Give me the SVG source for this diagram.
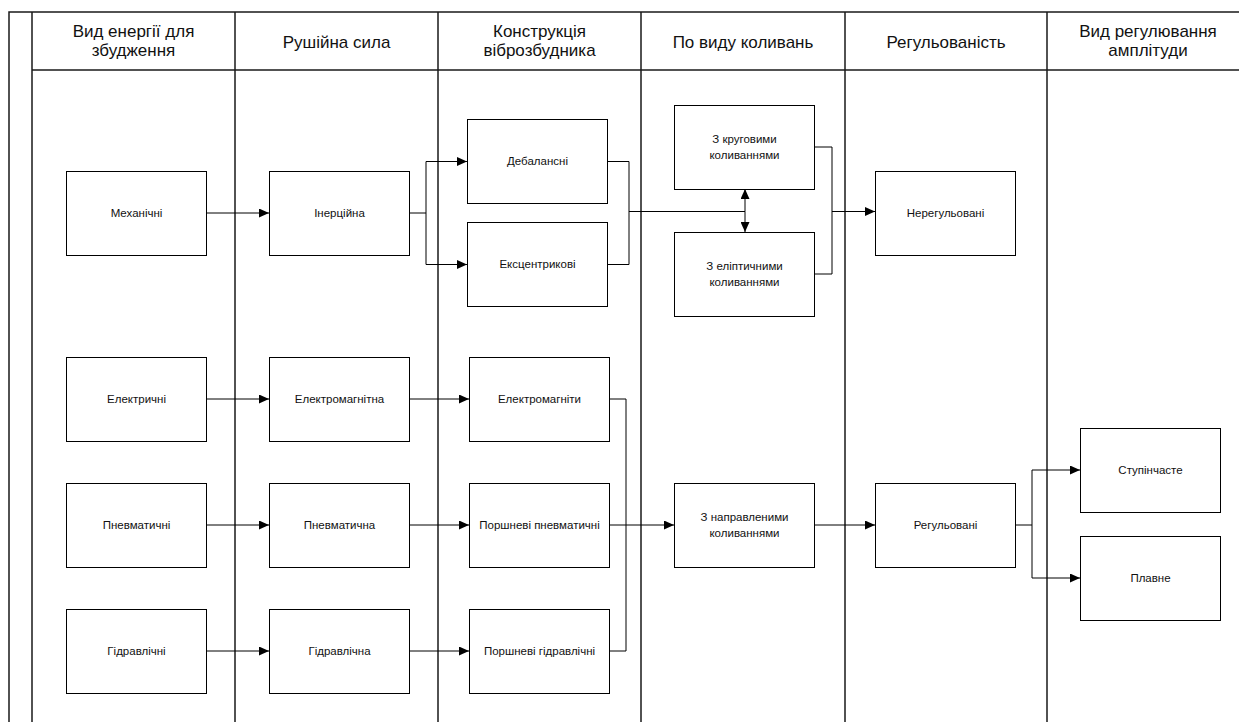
<svg xmlns="http://www.w3.org/2000/svg" width="1239" height="722" viewBox="0 0 1239 722">
<style>
.frame{stroke:#1a1a1a;stroke-width:1.5;fill:none}
.box{fill:#fff;stroke:#000;stroke-width:1}
.hdr{font-family:"Liberation Sans",Arial,sans-serif;font-size:17px;fill:#111;text-anchor:middle}
.lbl{font-family:"Liberation Sans",Arial,sans-serif;font-size:11.5px;fill:#111;text-anchor:middle}
.con{fill:none;stroke:#000;stroke-width:1}
.arr{fill:none;stroke:#000;stroke-width:1;marker-end:url(#ah)}
</style>
<defs>
<marker id="ah" markerUnits="userSpaceOnUse" markerWidth="10" markerHeight="9" refX="10" refY="4.5" orient="auto">
<path d="M0,0 L10,4.5 L0,9 z" fill="#000"/>
</marker>
</defs>
<rect width="1239" height="722" fill="#fff"/>
<g id="frame">
<path class="frame" d="M9,722 V12 H1239 M32,12 V722 M32,70 H1239 M235,12 V722 M438,12 V722 M641,12 V722 M845,12 V722 M1047,12 V722"/>
<text class="hdr" x="133.5" y="37">Вид енергії для</text>
<text class="hdr" x="133.5" y="56">збудження</text>
<text class="hdr" x="336.5" y="48">Рушійна сила</text>
<text class="hdr" x="539.5" y="37">Конструкція</text>
<text class="hdr" x="539.5" y="56">віброзбудника</text>
<text class="hdr" x="743" y="48">По виду коливань</text>
<text class="hdr" x="946" y="48">Регульованість</text>
<text class="hdr" x="1148" y="37">Вид регулювання</text>
<text class="hdr" x="1148" y="56">амплітуди</text>
</g>
<g id="connectors">
<path class="arr" d="M207,213 H269"/>
<path class="arr" d="M207,399 H269"/>
<path class="arr" d="M207,525 H269"/>
<path class="arr" d="M207,651 H269"/>
<path class="arr" d="M410,213 H426 V161.5 H467"/>
<path class="arr" d="M426,213 V264.5 H467"/>
<path class="arr" d="M410,399 H469"/>
<path class="arr" d="M410,525 H469"/>
<path class="arr" d="M410,651 H469"/>
<path class="con" d="M607,161.5 H629 V264.5 H607 M629,211.5 H745"/>
<path class="arr" d="M745,211.5 V189"/>
<path class="arr" d="M745,211.5 V232"/>
<path class="con" d="M815,147 H832 V274 H815"/>
<path class="arr" d="M832,211.5 H875"/>
<path class="con" d="M610,399 H626 V651 H610"/>
<path class="arr" d="M610,525 H674"/>
<path class="arr" d="M815,525 H875"/>
<path class="con" d="M1016,525 H1032 M1032,470 V578"/>
<path class="arr" d="M1032,470 H1080"/>
<path class="arr" d="M1032,578 H1080"/>
</g>
<g id="n_mech"><rect class="box" x="66.5" y="171.5" width="140" height="84"/><text class="lbl" x="136.5" y="217">Механічні</text></g>
<g id="n_elec"><rect class="box" x="66.5" y="357.5" width="140" height="84"/><text class="lbl" x="136.5" y="403">Електричні</text></g>
<g id="n_pneu"><rect class="box" x="66.5" y="483.5" width="140" height="84"/><text class="lbl" x="136.5" y="529">Пневматичні</text></g>
<g id="n_hydr"><rect class="box" x="66.5" y="609.5" width="140" height="84"/><text class="lbl" x="136.5" y="655">Гідравлічні</text></g>
<g id="n_inert"><rect class="box" x="269.5" y="171.5" width="140" height="84"/><text class="lbl" x="339.5" y="217">Інерційна</text></g>
<g id="n_em"><rect class="box" x="269.5" y="357.5" width="140" height="84"/><text class="lbl" x="339.5" y="403">Електромагнітна</text></g>
<g id="n_pn"><rect class="box" x="269.5" y="483.5" width="140" height="84"/><text class="lbl" x="339.5" y="529">Пневматична</text></g>
<g id="n_hy"><rect class="box" x="269.5" y="609.5" width="140" height="84"/><text class="lbl" x="339.5" y="655">Гідравлічна</text></g>
<g id="n_deb"><rect class="box" x="467.5" y="119.5" width="140" height="84"/><text class="lbl" x="537.5" y="165">Дебалансні</text></g>
<g id="n_exc"><rect class="box" x="467.5" y="222.5" width="140" height="84"/><text class="lbl" x="537.5" y="268">Ексцентрикові</text></g>
<g id="n_emag"><rect class="box" x="469.5" y="357.5" width="140" height="84"/><text class="lbl" x="539.5" y="403">Електромагніти</text></g>
<g id="n_ppn"><rect class="box" x="469.5" y="483.5" width="140" height="84"/><text class="lbl" x="539.5" y="529">Поршневі пневматичні</text></g>
<g id="n_phy"><rect class="box" x="469.5" y="609.5" width="140" height="84"/><text class="lbl" x="539.5" y="655">Поршневі гідравлічні</text></g>
<g id="n_circ"><rect class="box" x="674.5" y="105.5" width="140" height="84"/><text class="lbl" x="744.5" y="143">З круговими</text><text class="lbl" x="744.5" y="159">коливаннями</text></g>
<g id="n_ell"><rect class="box" x="674.5" y="232.5" width="140" height="84"/><text class="lbl" x="744.5" y="270">З еліптичними</text><text class="lbl" x="744.5" y="286">коливаннями</text></g>
<g id="n_dir"><rect class="box" x="674.5" y="483.5" width="140" height="84"/><text class="lbl" x="744.5" y="521">З направленими</text><text class="lbl" x="744.5" y="537">коливаннями</text></g>
<g id="n_unreg"><rect class="box" x="875.5" y="171.5" width="140" height="84"/><text class="lbl" x="945.5" y="217">Нерегульовані</text></g>
<g id="n_reg"><rect class="box" x="875.5" y="483.5" width="140" height="84"/><text class="lbl" x="945.5" y="529">Регульовані</text></g>
<g id="n_step"><rect class="box" x="1080.5" y="428.5" width="140" height="84"/><text class="lbl" x="1150.5" y="474">Ступінчасте</text></g>
<g id="n_smooth"><rect class="box" x="1080.5" y="536.5" width="140" height="84"/><text class="lbl" x="1150.5" y="582">Плавне</text></g>
</svg>
